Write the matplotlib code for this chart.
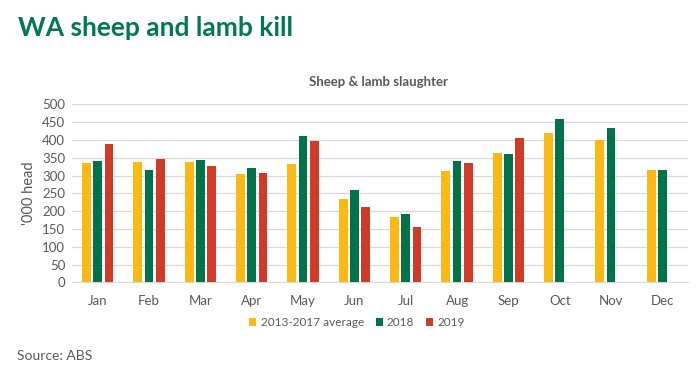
import matplotlib.pyplot as plt
import numpy as np

plt.rcParams["font.family"] = ["Lato", "DejaVu Sans"]

months = ["Jan", "Feb", "Mar", "Apr", "May", "Jun", "Jul", "Aug", "Sep", "Oct", "Nov", "Dec"]
avg_13_17 = [336, 338, 338, 305, 332, 235, 185, 313, 364, 419, 401, 317]
y2018 = [342, 317, 344, 321, 411, 259, 191, 342, 360, 460, 434, 315]
y2019 = [388, 347, 328, 307, 397, 212, 156, 335, 407, np.nan, np.nan, np.nan]

series = [("2013-2017 average", avg_13_17, "#FDB913"),
          ("2018", y2018, "#00734A"),
          ("2019", y2019, "#D23A28")]

fig = plt.figure(figsize=(7, 3.73), dpi=100)
ax = fig.add_axes([0.103, 0.243, 0.88, 0.477])

x = np.arange(len(months))
width = 0.17
step = 0.22
for i, (name, vals, col) in enumerate(series):
    ax.bar(x + (i - 1) * step, vals, width, color=col, label=name, zorder=3)

ax.set_xlim(-0.5, len(months) - 0.5)
ax.set_ylim(0, 500)
ax.set_yticks(range(0, 501, 50))
ax.set_xticks(x)
ax.set_xticklabels(months)
ax.grid(axis="y", color="#d9d9d9", lw=0.9, zorder=0)
for s in ["top", "right", "left"]:
    ax.spines[s].set_visible(False)
ax.spines["bottom"].set_color("#d9d9d9")
ax.tick_params(axis="both", length=0, labelsize=9.5, colors="#595959")
ax.tick_params(axis="x", pad=9)
ax.tick_params(axis="y", pad=5)
ax.set_ylabel("'000 head", fontsize=10.5, color="#595959", labelpad=4)

fig.text(0.025, 0.925, "WA sheep and lamb kill", fontsize=19, fontweight="bold",
         color="#007A4D", va="center", ha="left")
fig.text(0.54, 0.78, "Sheep & lamb slaughter", fontsize=9.5, fontweight="bold",
         color="#595959", ha="center", va="center")
fig.legend(loc="center", bbox_to_anchor=(0.51, 0.135), ncol=3, frameon=False,
           fontsize=8.5, handlelength=0.6, handleheight=0.6, handletextpad=0.35,
           columnspacing=1.0, labelcolor="#595959")
fig.text(0.024, 0.045, "Source: ABS", fontsize=10, color="#595959",
         ha="left", va="center")

fig.savefig("out.png", dpi=100)
